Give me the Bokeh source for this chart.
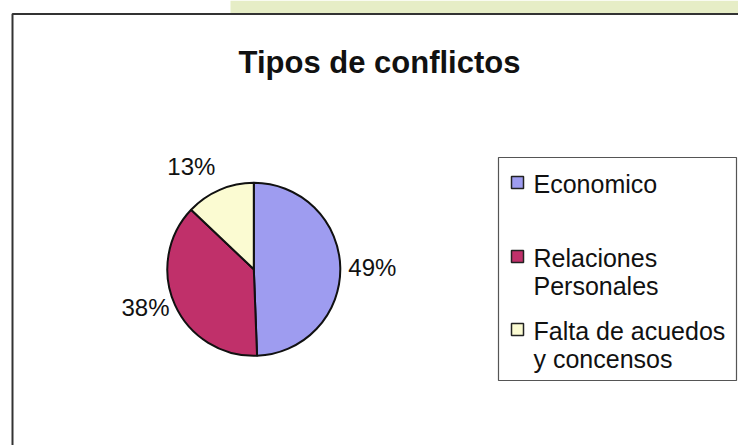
import numpy as np
from bokeh.plotting import figure
from bokeh.models import Range1d
from bokeh.core.properties import value
from bokeh.embed import file_html
from bokeh.resources import INLINE

# ---- data ----
title = "Tipos de conflictos"
categories = ["Economico", "Relaciones Personales", "Falta de acuedos y concensos"]
legend_lines = [["Economico"], ["Relaciones", "Personales"], ["Falta de acuedos", "y concensos"]]
percents = [49.4, 37.7, 12.9]   # shown rounded: 49%, 38%, 13%
colors = ["#9E9CF0", "#C0306A", "#FBFBD2"]

# ---- layout (pixel space, y up) ----
W, H = 738, 445
FONT = value("Liberation Sans")
cx, cy, r = 253.3, 176.2, 86.5
label_pad = [8, 6, 11]

p = figure(width=W, height=H, x_range=Range1d(0, W), y_range=Range1d(0, H),
           output_backend="svg", toolbar_location=None, min_border=0,
           x_axis_location=None, y_axis_location=None)
p.grid.visible = False
p.outline_line_color = None
p.background_fill_color = "white"
p.border_fill_color = "white"

# textured background strip above chart frame
p.quad(left=[230], right=[W], bottom=[432.5], top=[H], fill_color="#E6EDC6", line_color=None)

# chart area frame (left and top edges visible)
p.line(x=[12, 12, W], y=[0, 431.5, 431.5], line_color="#333333", line_width=2)

# title
p.text(x=[379], y=[383], text=[title], text_font=FONT, text_font_size="31px",
       text_font_style="bold", text_align="center", text_baseline="alphabetic",
       text_color="#111111")

# pie (clockwise from 12 o'clock)
frac = np.array(percents, dtype=float) / sum(percents)
cum_end = np.cumsum(frac)
cum_start = cum_end - frac
start = np.pi / 2 - 2 * np.pi * cum_end
end = np.pi / 2 - 2 * np.pi * cum_start
p.wedge(x=cx, y=cy, radius=r, start_angle=list(start), end_angle=list(end),
        fill_color=colors, line_color="#111111", line_width=2)

# percentage labels
mid = (start + end) / 2
for i, pct in enumerate(percents):
    c, s = np.cos(mid[i]), np.sin(mid[i])
    rr = r + label_pad[i]
    align = "left" if c > 0.3 else ("right" if c < -0.3 else "center")
    base = "bottom" if s > 0.5 else ("top" if s < -0.5 else "middle")
    p.text(x=[cx + rr * c], y=[cy + rr * s], text=[f"{round(100 * frac[i])}%"],
           text_font=FONT, text_font_size="24px", text_align=align,
           text_baseline=base, text_color="#111111")

# legend
p.quad(left=[498], right=[736], bottom=[65], top=[288], fill_color="white",
       line_color="#555555", line_width=1.2)
sw_y = [263, 189, 116]
p.rect(x=[517] * 3, y=sw_y, width=12, height=12, fill_color=colors,
       line_color="#222222", line_width=1.5)
for i, lines in enumerate(legend_lines):
    for j, line in enumerate(lines):
        p.text(x=[533], y=[sw_y[i] - 1 - 28 * j], text=[line], text_font=FONT,
               text_font_size="25px", text_align="left", text_baseline="middle",
               text_color="#111111")

open("out.html", "w").write(file_html(p, INLINE))
